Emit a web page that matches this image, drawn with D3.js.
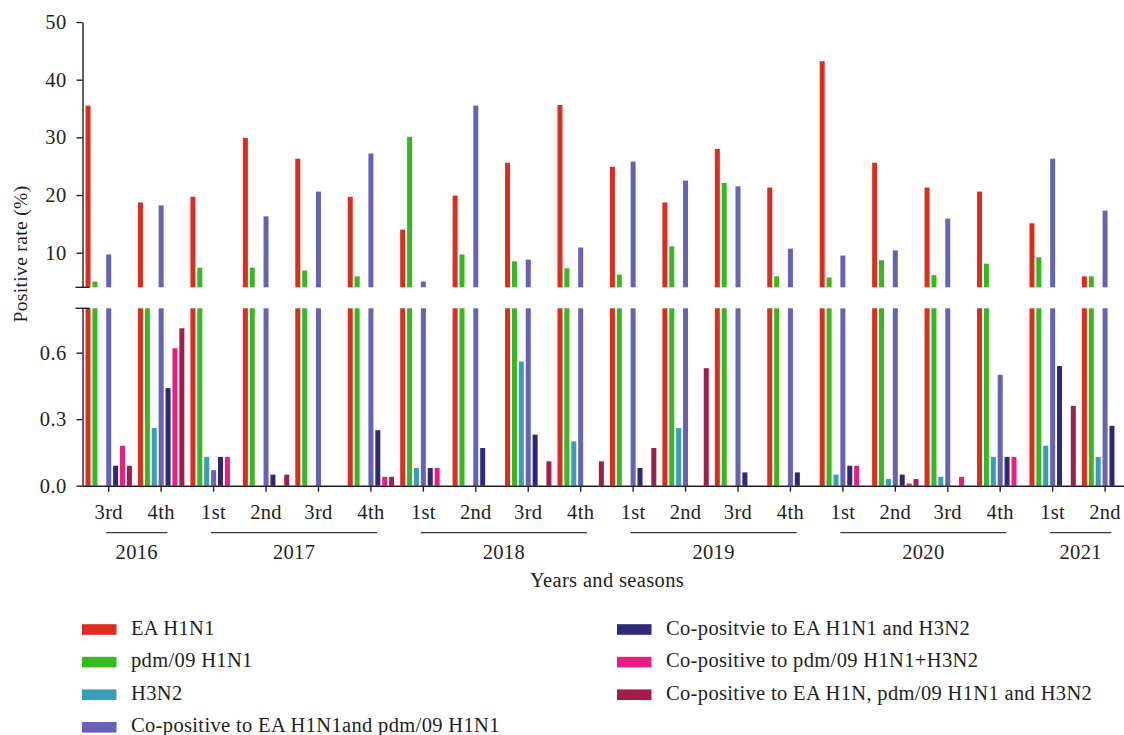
<!DOCTYPE html>
<html>
<head>
<meta charset="utf-8">
<script src="https://cdn.jsdelivr.net/npm/d3@7"></script>
<style>
  body { margin: 0; background: #fff; }
  text { font-family: "Liberation Serif", "DejaVu Serif", serif; fill: #231f20; letter-spacing: 0.35px; }
</style>
</head>
<body>
<div id="chart"></div>
<script>
// seasons on the x axis
var years = ["2016", "2017", "2018", "2019", "2020", "2021"];
var seasons = ["3rd", "4th",
  "1st", "2nd", "3rd", "4th",
  "1st", "2nd", "3rd", "4th",
  "1st", "2nd", "3rd", "4th",
  "1st", "2nd", "3rd", "4th",
  "1st", "2nd"];
var seasonYear = ["2016", "2016",
  "2017", "2017", "2017", "2017",
  "2018", "2018", "2018", "2018",
  "2019", "2019", "2019", "2019",
  "2020", "2020", "2020", "2020",
  "2021", "2021"];

var seriesNames = ["EA H1N1", "pdm/09 H1N1", "H3N2",
  "Co-positive to EA H1N1and pdm/09 H1N1",
  "Co-positvie to EA H1N1 and H3N2",
  "Co-positive to pdm/09 H1N1+H3N2",
  "Co-positive to EA H1N, pdm/09 H1N1 and H3N2"];
var seriesColors = ["#de2c1f", "#36b81e", "#3a9db5", "#6762b6", "#2e2878", "#e91e80", "#a21d4a"];

// positive rate (%) per season
var eaH1N1 = [35.5, 18.7, 19.7, 29.9, 26.3, 19.7, 14.0, 19.9, 25.6, 35.6, 24.9, 18.7, 28.0, 21.3, 43.2, 25.6, 21.3, 20.6, 15.1, 5.9];
var pdmH1N1 = [5.0, 2.5, 7.4, 7.4, 6.9, 5.9, 30.1, 9.7, 8.5, 7.3, 6.2, 11.1, 22.1, 5.9, 5.7, 8.7, 6.1, 8.1, 9.2, 5.9];
var h3n2 = [0, 0.26, 0.13, 0, 0, 0, 0.08, 0, 0.56, 0.20, 0, 0.26, 0, 0, 0.05, 0.03, 0.04, 0.13, 0.18, 0.13];
var coEaPdm = [9.7, 18.2, 0.07, 16.3, 20.6, 27.2, 5.0, 35.5, 8.8, 10.9, 25.8, 22.5, 21.5, 10.7, 9.5, 10.4, 15.9, 0.50, 26.3, 17.3];
var coEaH3 = [0.09, 0.44, 0.13, 0.05, 0, 0.25, 0.08, 0.17, 0.23, 0, 0.08, 0, 0.06, 0.06, 0.09, 0.05, 0, 0.13, 0.54, 0.27];
var coPdmH3 = [0.18, 0.62, 0.13, 0, 0, 0.04, 0.08, 0, 0, 0, 0, 0, 0, 0, 0.09, 0.01, 0.04, 0.13, 0, 0];
var coAll = [0.09, 0.71, 0, 0.05, 0, 0.04, 0, 0, 0.11, 0.11, 0.17, 0.53, 0, 0, 0, 0.03, 0, 0, 0.36, 0];

var seriesValues = [eaH1N1, pdmH1N1, h3n2, coEaPdm, coEaH3, coPdmH3, coAll];

var topTicks = [10, 20, 30, 40, 50];
var bottomTicks = [0, 0.3, 0.6];

var width = 1124, height = 735;
var svg = d3.select("#chart").append("svg")
  .attr("width", width)
  .attr("height", height);

var axisX = 82.5;
var keys = seasons.map(function (s, i) { return i; });

var x0 = d3.scaleBand()
  .domain(keys)
  .range([axisX, axisX + 52.44 * keys.length])
  .padding(0);

var x1 = d3.scaleBand()
  .domain(d3.range(seriesNames.length))
  .range([0, x0.bandwidth()])
  .paddingInner(0.275)
  .paddingOuter(0.44);

// broken y axis: upper panel and lower panel
var yTop = d3.scaleLinear().domain([4, 50]).range([287.3, 22]);
var yBot = d3.scaleLinear().domain([0, 0.8]).range([485.7, 308.3]);

var fontSize = "20.5px";

// bars
var cells = [];
seriesValues.forEach(function (vals, s) {
  vals.forEach(function (v, i) { cells.push({ s: s, i: i, v: v }); });
});

var gBars = svg.append("g");
// upper panel
gBars.selectAll(".barTop")
  .data(cells.filter(function (d) { return d.v > 4; }))
  .enter().append("rect")
  .attr("class", "barTop")
  .attr("x", function (d) { return x0(d.i) + x1(d.s); })
  .attr("width", x1.bandwidth())
  .attr("y", function (d) { return yTop(Math.min(d.v, 50)); })
  .attr("height", function (d) { return yTop(4) - yTop(Math.min(d.v, 50)); })
  .attr("fill", function (d) { return seriesColors[d.s]; });
// lower panel
gBars.selectAll(".barBot")
  .data(cells.filter(function (d) { return d.v > 0; }))
  .enter().append("rect")
  .attr("class", "barBot")
  .attr("x", function (d) { return x0(d.i) + x1(d.s); })
  .attr("width", x1.bandwidth())
  .attr("y", function (d) { return yBot(Math.min(d.v, 0.8)); })
  .attr("height", function (d) { return yBot(0) - yBot(Math.min(d.v, 0.8)); })
  .attr("fill", function (d) { return seriesColors[d.s]; });

function styleAxis(g) {
  g.selectAll("path, line").attr("stroke", "#231f20").attr("stroke-width", 1.4);
  g.selectAll("text").style("font-size", fontSize).style("font-family", "Liberation Serif, serif").attr("fill", "#231f20");
}

// y axes
var gTop = svg.append("g")
  .attr("transform", "translate(" + axisX + ",0)")
  .call(d3.axisLeft(yTop).tickValues(topTicks).tickSize(6).tickSizeOuter(0).tickPadding(10));
styleAxis(gTop);
var gBot = svg.append("g")
  .attr("transform", "translate(" + axisX + ",0)")
  .call(d3.axisLeft(yBot).tickValues(bottomTicks).tickFormat(d3.format(".1f")).tickSize(6).tickSizeOuter(0).tickPadding(10));
styleAxis(gBot);

// break marks at the panel ends
[yTop(4), yBot(0.8)].forEach(function (yy) {
  svg.append("line")
    .attr("x1", axisX - 7).attr("x2", axisX + 7)
    .attr("y1", yy).attr("y2", yy)
    .attr("stroke", "#231f20").attr("stroke-width", 1.4);
});

// x axis
var gX = svg.append("g")
  .attr("transform", "translate(0," + yBot(0) + ")")
  .call(d3.axisBottom(x0).tickSize(6).tickSizeOuter(0).tickPadding(13)
    .tickFormat(function (i) { return seasons[i]; }));
styleAxis(gX);

// year groups
var gYears = svg.append("g");
years.forEach(function (yr) {
  var idx = keys.filter(function (i) { return seasonYear[i] === yr; });
  var xa = x0(idx[0]) + x0.bandwidth() * 0.45;
  var xb = x0(idx[idx.length - 1]) + x0.bandwidth() * 0.62;
  gYears.append("line")
    .attr("x1", xa).attr("x2", xb)
    .attr("y1", 532.7).attr("y2", 532.7)
    .attr("stroke", "#3a3a3a").attr("stroke-width", 1.3);
  gYears.append("text")
    .attr("x", (xa + xb) / 2)
    .attr("y", 559)
    .attr("text-anchor", "middle")
    .style("font-size", fontSize)
    .text(yr);
});

// axis titles
svg.append("text")
  .attr("x", 607)
  .attr("y", 587)
  .attr("text-anchor", "middle")
  .style("font-size", fontSize)
  .text("Years and seasons");

svg.append("text")
  .attr("transform", "translate(27,254) rotate(-90)")
  .attr("text-anchor", "middle")
  .style("font-size", "19.5px")
  .text("Positive rate (%)");

// legend
var legend = svg.append("g");
seriesNames.forEach(function (name, s) {
  var col = s < 4 ? 0 : 1;
  var row = s < 4 ? s : s - 4;
  var lx = col === 0 ? 82 : 617;
  var ly = 629.5 + row * 32.6;
  legend.append("rect")
    .attr("x", lx).attr("y", ly - 5.3)
    .attr("width", 34.5).attr("height", 10.6)
    .attr("fill", seriesColors[s]);
  legend.append("text")
    .attr("x", lx + 49)
    .attr("y", ly + 5)
    .style("font-size", fontSize)
    .text(name);
});
</script>
</body>
</html>
